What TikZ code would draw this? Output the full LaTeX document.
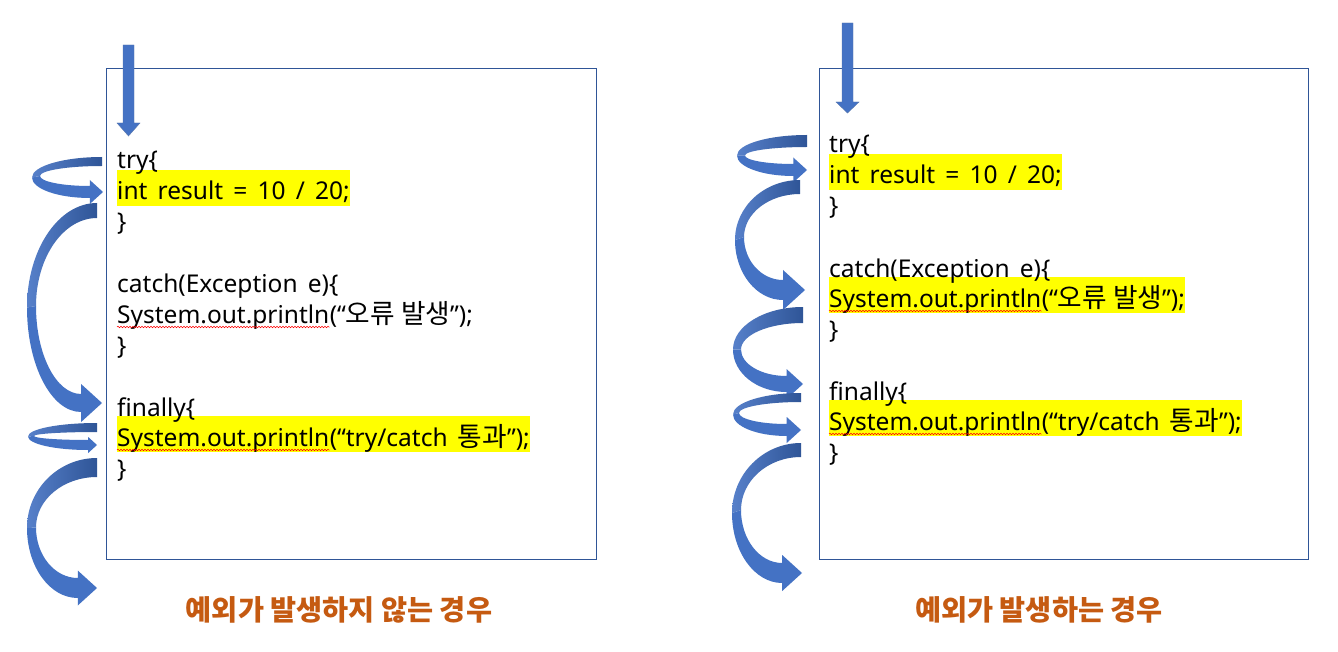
\documentclass[tikz,border=0pt]{standalone}
\usepackage{fontspec}
\setmainfont{Noto Sans}[WordSpace=1.6]
\newfontfamily\kr{Noto Sans CJK KR}[Scale=1.09]
\usetikzlibrary{decorations.pathmorphing}
\pgfdeclarelayer{background}
\pgfsetlayers{background,main}
\definecolor{arrowblue}{HTML}{4472C4}
\definecolor{darkblue}{HTML}{2F5597}
\definecolor{boxblue}{HTML}{2F5597}
\definecolor{titlecol}{HTML}{C55A11}
\definecolor{hlyellow}{HTML}{FFFF00}
\tikzset{
  code/.style={font=\fontsize{24.5}{30}\selectfont, inner xsep=0pt, inner ysep=0pt, anchor=base west, text height=30pt, text depth=6pt},
  hlfill/.style={fill=hlyellow},
  codebox/.style={draw=boxblue, line width=0.9pt},
  title/.style={font=\kr\fontsize{26}{30}\selectfont\bfseries, text=titlecol},
  squiggle/.style={draw=red, line width=0.5pt, decorate, decoration={snake, segment length=3pt, amplitude=0.8pt}},
  downarrow/.style={fill=arrowblue, draw=darkblue!80, line width=0.4pt},
  upperband/.style={left color=arrowblue!90!white, right color=darkblue},
  lowerband/.style={fill=arrowblue}
}
\newcommand{\ribbon}[9]{%
\pgfmathsetmacro\rbxr{#1}%
\pgfmathsetmacro\rbyA{#2}%
\pgfmathsetmacro\rbyB{#2+#3}%
\pgfmathsetmacro\rbxl{#4}%
\pgfmathsetmacro\rbxi{#4+#5}%
\pgfmathsetmacro\rbxt{#6}%
\pgfmathsetmacro\rbxb{#6-1.1*#9}%
\pgfmathsetmacro\rbyC{#7-#8/2}%
\pgfmathsetmacro\rbyD{#7+#8/2}%
\pgfmathsetmacro\rbym{(\rbyA+\rbyD)/2}%
\pgfmathsetmacro\rbyi{(\rbyB+\rbyC)/2}%
\pgfmathsetmacro\rbhu{#7-#9}%
\pgfmathsetmacro\rbhd{#7+#9}%
\pgfmathsetmacro\rbtip{#7}%
\pgfmathsetmacro\rbca{\rbxr-0.552*(\rbxr-\rbxl)}%
\pgfmathsetmacro\rbcb{\rbym-0.552*(\rbym-\rbyA)}%
\pgfmathsetmacro\rbcc{\rbym+0.552*(\rbyD-\rbym)}%
\pgfmathsetmacro\rbcd{\rbxb-0.552*(\rbxb-\rbxl)}%
\pgfmathsetmacro\rbce{\rbxb-0.552*(\rbxb-\rbxi)}%
\pgfmathsetmacro\rbcf{\rbyi+0.552*(\rbyC-\rbyi)}%
\pgfmathsetmacro\rbcg{\rbyi-0.552*(\rbyi-\rbyB)}%
\pgfmathsetmacro\rbch{\rbxr-0.552*(\rbxr-\rbxi)}%
\fill[lowerband] (\rbxl,\rbym) .. controls (\rbxl,\rbcc) and (\rbcd,\rbyD) .. (\rbxb,\rbyD) -- (\rbxb,\rbhd) -- (\rbxt,\rbtip) -- (\rbxb,\rbhu) -- (\rbxb,\rbyC) .. controls (\rbce,\rbyC) and (\rbxi,\rbcf) .. (\rbxi,\rbyi) -- cycle;
\shade[upperband] (\rbxr,\rbyA) .. controls (\rbca,\rbyA) and (\rbxl,\rbcb) .. (\rbxl,\rbym) -- (\rbxi,\rbyi) .. controls (\rbxi,\rbcg) and (\rbch,\rbyB) .. (\rbxr,\rbyB) -- cycle;
}
\begin{document}
\begin{tikzpicture}[x=1pt,y=-1pt]
\useasboundingbox (0,0) rectangle (1338,652);
\begin{pgfonlayer}{background}
\fill[white] (0,0) rectangle (1338,652);
\end{pgfonlayer}

% ---------- left panel ----------
\draw[codebox] (106,68) rectangle (596,559);
\draw[downarrow] (123,45) -- (134,45) -- (134,123) -- (140,123) -- (128.5,136) -- (117,123) -- (123,123) -- cycle;

\node[code] (l1) at (117,169) {try\{};
\node[code] (l2) at (117,200) {int result = 10 / 20;};
\node[code] (l3) at (117,231) {\}};
\node[code] (l4) at (117,293) {catch(Exception e)\{};
\node[code] (l5a) at (117,323) {System.out.println};
\node[code] (l5b) at (l5a.base east) {(“{\kr 오류 발생}”);};
\node[code] (l6) at (117,354) {\}};
\node[code] (l7) at (117,416) {finally\{};
\node[code] (l8a) at (117,446) {System.out.println};
\node[code] (l8b) at (l8a.base east) {(“try/catch {\kr 통과}”);};
\node[code] (l9) at (117,477) {\}};
\draw[squiggle] ([yshift=-4pt]l5a.base west) -- ([yshift=-4pt]l5a.base east);
\draw[squiggle] ([yshift=-4pt]l8a.base west) -- ([yshift=-4pt]l8a.base east);
\begin{pgfonlayer}{background}
\fill[hlfill] (l2.north west) rectangle (l2.south east);
\fill[hlfill] (l8a.north west) rectangle (l8b.south east);
\end{pgfonlayer}

\ribbon{102}{157}{9}{32}{8}{103}{192}{12}{12}
\ribbon{97}{203}{15}{27}{9}{102}{403}{18}{19}
\ribbon{97}{423}{9}{28}{6}{97}{445}{10}{8}
\ribbon{97}{458}{19}{27}{9}{97}{588}{20}{17.5}

\node[title] (t1) at (339,610) {예외가 발생하지 않는 경우};

% ---------- right panel ----------
\draw[codebox] (819,68) rectangle (1308,559);
\draw[downarrow] (842,23) -- (853,23) -- (853,102) -- (859,102) -- (847.5,113) -- (836,102) -- (842,102) -- cycle;

\node[code] (r1) at (829,153) {try\{};
\node[code] (r2) at (829,184) {int result = 10 / 20;};
\node[code] (r3) at (829,215) {\}};
\node[code] (r4) at (829,277) {catch(Exception e)\{};
\node[code] (r5a) at (829,307) {System.out.println};
\node[code] (r5b) at (r5a.base east) {(“{\kr 오류 발생}”);};
\node[code] (r6) at (829,338) {\}};
\node[code] (r7) at (829,400) {finally\{};
\node[code] (r8a) at (829,430) {System.out.println};
\node[code] (r8b) at (r8a.base east) {(“try/catch {\kr 통과}”);};
\node[code] (r9) at (829,461) {\}};
\draw[squiggle] ([yshift=-4pt]r5a.base west) -- ([yshift=-4pt]r5a.base east);
\draw[squiggle] ([yshift=-4pt]r8a.base west) -- ([yshift=-4pt]r8a.base east);
\begin{pgfonlayer}{background}
\fill[hlfill] (r2.north west) rectangle (r2.south east);
\fill[hlfill] (r5a.north west) rectangle (r5b.south east);
\fill[hlfill] (r8a.north west) rectangle (r8b.south east);
\end{pgfonlayer}

\ribbon{807}{135}{12}{737}{8}{807}{170}{12}{12.5}
\ribbon{800}{180}{14}{735}{9}{805}{290}{20}{20}
\ribbon{803}{307}{16}{733}{8}{803}{384}{16}{15}
\ribbon{801}{393}{9}{733}{6}{801}{430}{12}{13}
\ribbon{801}{443}{14}{732}{9}{802}{573}{20}{18}

\node[title] (t2) at (1039,610) {예외가 발생하는 경우};
\end{tikzpicture}
\end{document}
